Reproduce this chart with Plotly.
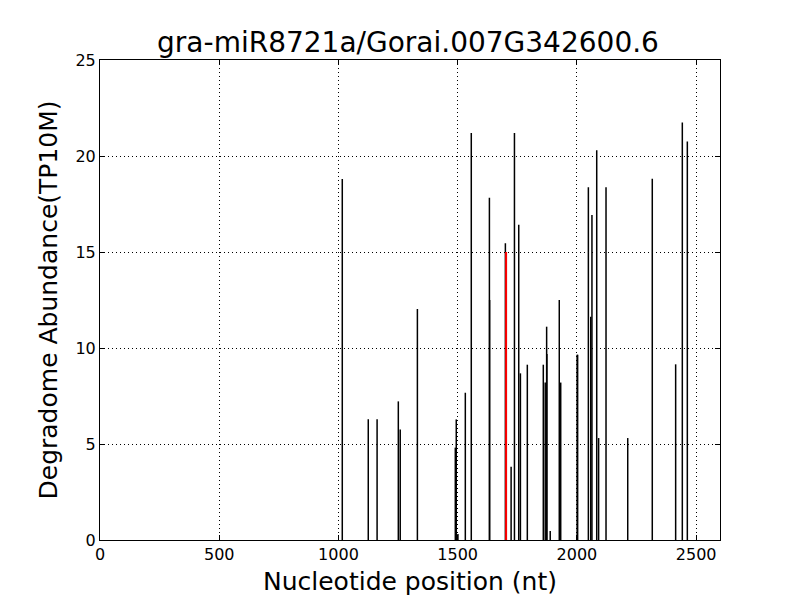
import plotly.graph_objects as go

positions = [1016, 1125, 1162, 1251, 1259, 1331, 1490, 1494, 1501, 1532, 1557,
             1633, 1634, 1700, 1724, 1738, 1756, 1763, 1792, 1859, 1867, 1873,
             1874, 1888, 1926, 1932, 2001, 2003, 2048, 2058, 2063, 2083, 2091,
             2122, 2213, 2316, 2414, 2442, 2463]
abundance = [18.8, 6.29, 6.29, 7.22, 5.76, 12.03, 4.81, 6.28, 0.31, 7.67, 21.2,
             17.83, 12.5, 15.45, 3.82, 21.2, 16.42, 8.68, 9.13, 9.13, 8.2, 11.11,
             9.69, 0.47, 12.5, 8.2, 9.65, 9.65, 18.37, 11.63, 16.93, 20.3, 5.31,
             18.37, 5.31, 18.82, 9.15, 21.74, 20.75]
target_pos = [1703]
target_abund = [15.0]

title_text = "gra-miR8721a/Gorai.007G342600.6"
x_ticks = [0, 500, 1000, 1500, 2000, 2500]
y_ticks = [0, 5, 10, 15, 20, 25]


def segs(xs, ys):
    sx, sy = [], []
    for x, y in zip(xs, ys):
        sx += [x, x, None]
        sy += [0, y, None]
    return sx, sy


bx, by = segs(positions, abundance)
rx, ry = segs(target_pos, target_abund)

fig = go.Figure()
fig.add_trace(go.Scatter(x=bx, y=by, mode="lines",
                         line=dict(color="black", width=1.5),
                         hoverinfo="skip", showlegend=False))
fig.add_trace(go.Scatter(x=rx, y=ry, mode="lines",
                         line=dict(color="red", width=2),
                         hoverinfo="skip", showlegend=False))

axis_common = dict(
    showline=True, linecolor="black", linewidth=1, mirror="ticks",
    ticks="inside", ticklen=5, tickcolor="black", tickwidth=1,
    showgrid=True, gridcolor="black", gridwidth=0.7, griddash="1px,3px",
    zeroline=False, tickfont=dict(family="DejaVu Sans", size=16, color="black"),
)

fig.update_layout(
    width=800, height=600,
    paper_bgcolor="white", plot_bgcolor="white",
    margin=dict(l=92, r=88, t=52, b=68),
    title=dict(text=title_text, x=0.5, xanchor="center", y=0.943, yanchor="middle",
               font=dict(family="DejaVu Sans", size=28, color="black")),
    xaxis=dict(range=[0, 2600], tickvals=x_ticks,
               title=dict(text="Nucleotide position (nt)", standoff=9,
                          font=dict(family="DejaVu Sans", size=25, color="black")),
               **axis_common),
    yaxis=dict(range=[0, 25], tickvals=y_ticks,
               title=dict(text="Degradome Abundance(TP10M)", standoff=10,
                          font=dict(family="DejaVu Sans", size=25, color="black")),
               **axis_common),
)

fig.write_html("out.html")
